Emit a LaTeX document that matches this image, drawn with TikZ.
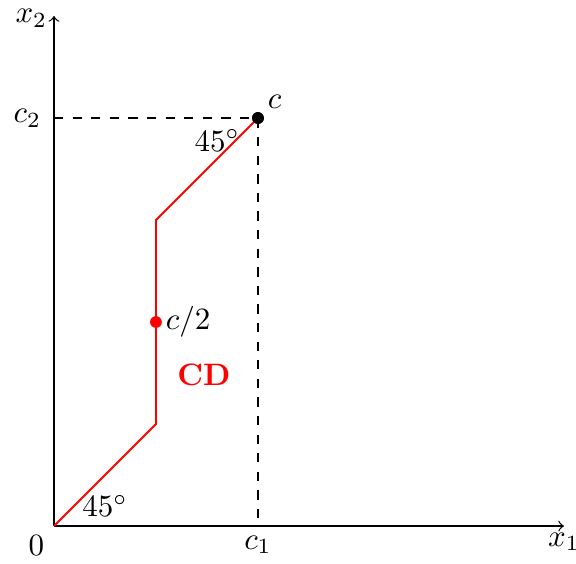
\documentclass[tikz,border=0pt]{standalone}
\begin{document}
\begin{tikzpicture}[x=1.157cm,y=1.157cm,
  axis/.style={->},
  guide/.style={dashed},
  cdpath/.style={red,semithick},
  dot/.style={circle,fill,inner sep=0pt,minimum size=3.8pt}]
\useasboundingbox (-0.529,-0.363) rectangle (5.118,5.157);
\coordinate (O) at (0,0);
\coordinate (X) at (5,0);
\coordinate (Y) at (0,5);
\coordinate (C1) at (2,0);
\coordinate (C2) at (0,4);
\coordinate (P1) at (1,1);
\coordinate (P2) at (1,3);
\draw[axis] (O) -- (X);
\draw[axis] (O) -- (Y);
\node[dot] (c) at (2,4) {};
\draw[guide] (C2) -- (c.center) -- (C1);
\draw[cdpath] (O) -- (P1) -- (P2) -- (c.center);
\node[dot,red] (ch) at (1,2) {};
\node[dot] at (c) {};
\node[left,inner sep=2pt] (x2l) at (0,4.98) {$x_2$};
\node[below,inner sep=2pt] (x1l) at (X) {$x_1$};
\node[left,inner sep=4pt] (c2l) at (C2) {$c_2$};
\node[below,inner sep=3pt] (c1l) at (C1) {$c_1$};
\node[below left,inner sep=3pt] (zero) at (O) {$0$};
\node[above right,inner sep=3pt] (cl) at (c) {$c$};
\node[right,inner sep=3pt] (chl) at (ch) {$c/2$};
\node (a1) at (1.6,3.78) {$45^\circ$};
\node (a2) at (0.5,0.2) {$45^\circ$};
\node[red] (cd) at (1.47,1.48) {\bfseries CD};
\end{tikzpicture}
\end{document}
